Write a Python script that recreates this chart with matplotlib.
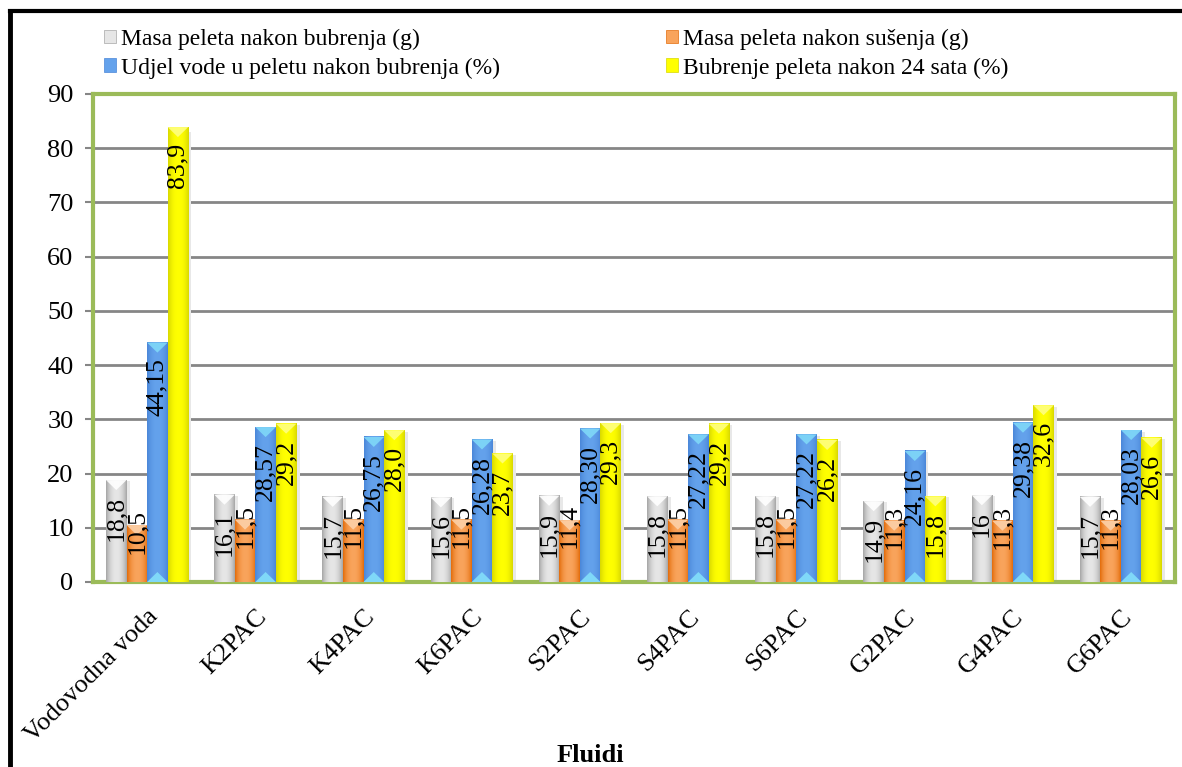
import numpy as np
import matplotlib.pyplot as plt
from matplotlib.patches import Patch, Polygon
from matplotlib.lines import Line2D

plt.rcParams['font.family'] = ['Liberation Serif', 'DejaVu Serif']

categories = ["Vodovodna voda", "K2PAC", "K4PAC", "K6PAC", "S2PAC", "S4PAC",
              "S6PAC", "G2PAC", "G4PAC", "G6PAC"]
masa_bubrenja = [18.8, 16.1, 15.7, 15.6, 15.9, 15.8, 15.8, 14.9, 16, 15.7]
masa_susenja = [10.5, 11.5, 11.5, 11.5, 11.4, 11.5, 11.5, 11.3, 11.3, 11.3]
udjel_vode = [44.15, 28.57, 26.75, 26.28, 28.30, 27.22, 27.22, 24.16, 29.38, 28.03]
bubrenje_24h = [83.9, 29.2, 28.0, 23.7, 29.3, 29.2, 26.2, 15.8, 32.6, 26.6]

series = [
    ("Masa peleta nakon bubrenja (g)", masa_bubrenja, "{:g}",
     "#a6a6a6", "#e6e6e6", "#ffffff"),
    ("Masa peleta nakon sušenja (g)", masa_susenja, "{:g}",
     "#e36c0a", "#f9a45c", "#fcd0a8"),
    ("Udjel vode u peletu nakon bubrenja (%)", udjel_vode, "{:.2f}",
     "#4a86d8", "#64a2ec", "#7fd8f8"),
    ("Bubrenje peleta nakon 24 sata (%)", bubrenje_24h, "{:.1f}",
     "#d8d800", "#ffff00", "#ffff80"),
]

fig = plt.figure(figsize=(11.82, 7.67), dpi=100)
ax = fig.add_axes([93 / 1182, 1 - 582 / 767, (1175 - 93) / 1182, (582 - 94) / 767])

x = np.arange(len(categories))
w = 0.19
t = np.linspace(-1, 1, 64)
prof = 1 - np.abs(t) ** 2.2

ax.set_ylim(0, 90)
ax.set_xlim(-0.5, len(categories) - 0.5)

px_per_unit = (582 - 94) / 90.0

for k, (name, vals, fmt, dark, light, cap) in enumerate(series):
    c_dark = np.array(plt.matplotlib.colors.to_rgb(dark))
    c_light = np.array(plt.matplotlib.colors.to_rgb(light))
    grad = c_dark[None, :] + (c_light - c_dark)[None, :] * prof[:, None]
    grad = grad[None, :, :]
    for i, v in enumerate(vals):
        x0 = x[i] + (k - 2) * w
        x1 = x0 + w
        # soft shadow
        ax.add_patch(plt.Rectangle((x1, 0), 0.03, v * 0.99, color="#e8e8e8",
                                   lw=0, zorder=2))
        ax.imshow(grad, extent=(x0, x1, 0, v), aspect="auto", zorder=3,
                  interpolation="bilinear")
        h = 10 / px_per_unit
        ax.add_patch(Polygon([(x0, v), (x1, v), (x0 + w / 2, v - h)],
                             closed=True, color=cap, lw=0, alpha=0.9, zorder=4))
        if k == 2:
            ax.add_patch(Polygon([(x0, 0), (x1, 0), (x0 + w / 2, h)],
                                 closed=True, color=cap, lw=0, zorder=4))
        label = fmt.format(v).replace(".", ",")
        bar_px = v * px_per_unit
        if bar_px < 75:
            ax.annotate(label, (x0 + w / 2, v), xytext=(0, -6),
                        textcoords="offset pixels", rotation=90,
                        ha="center", va="center", fontsize=18.5, zorder=6)
        else:
            ax.annotate(label, (x0 + w / 2, v), xytext=(0, -16),
                        textcoords="offset pixels", rotation=90,
                        ha="center", va="top", fontsize=18.5, zorder=6)

ax.set_yticks(np.arange(0, 91, 10))
ax.yaxis.grid(True, color="#868686", lw=2)
ax.set_axisbelow(True)
ax.set_xticks(x)
ax.set_xticklabels(categories, rotation=45, ha="right", rotation_mode="anchor",
                   fontsize=19)
ax.tick_params(axis="x", length=0, pad=17)
ax.tick_params(axis="y", labelsize=19, length=6, color="#868686", width=1.5,
               pad=8)
for s in ax.spines.values():
    s.set_color("#9bbb59")
    s.set_linewidth(3)
ax.set_xlabel("Fluidi", fontsize=19, fontweight="bold")
ax.xaxis.set_label_coords(0.46, -(755 - 582) / 488)
ax.xaxis.label.set_va("center")

handles = [Patch(facecolor=s[4], edgecolor=s[3], lw=0.5) for s in series]
order = [0, 2, 1, 3]
leg = fig.legend([handles[i] for i in order], [series[i][0] for i in order],
                 ncol=2, loc="upper left", bbox_to_anchor=(95 / 1182, 1 - 19 / 767),
                 frameon=False, fontsize=17, handlelength=0.5, handleheight=0.5,
                 handletextpad=0.2, columnspacing=7.05, labelspacing=0.33,
                 borderaxespad=0)

fig.add_artist(Line2D([10 / 1182, 10 / 1182], [0, 1 - 11 / 767],
                      transform=fig.transFigure, color="black", lw=3.5))
fig.add_artist(Line2D([10 / 1182, 1], [1 - 11 / 767, 1 - 11 / 767],
                      transform=fig.transFigure, color="black", lw=3))

fig.savefig("out.png", dpi=100)
